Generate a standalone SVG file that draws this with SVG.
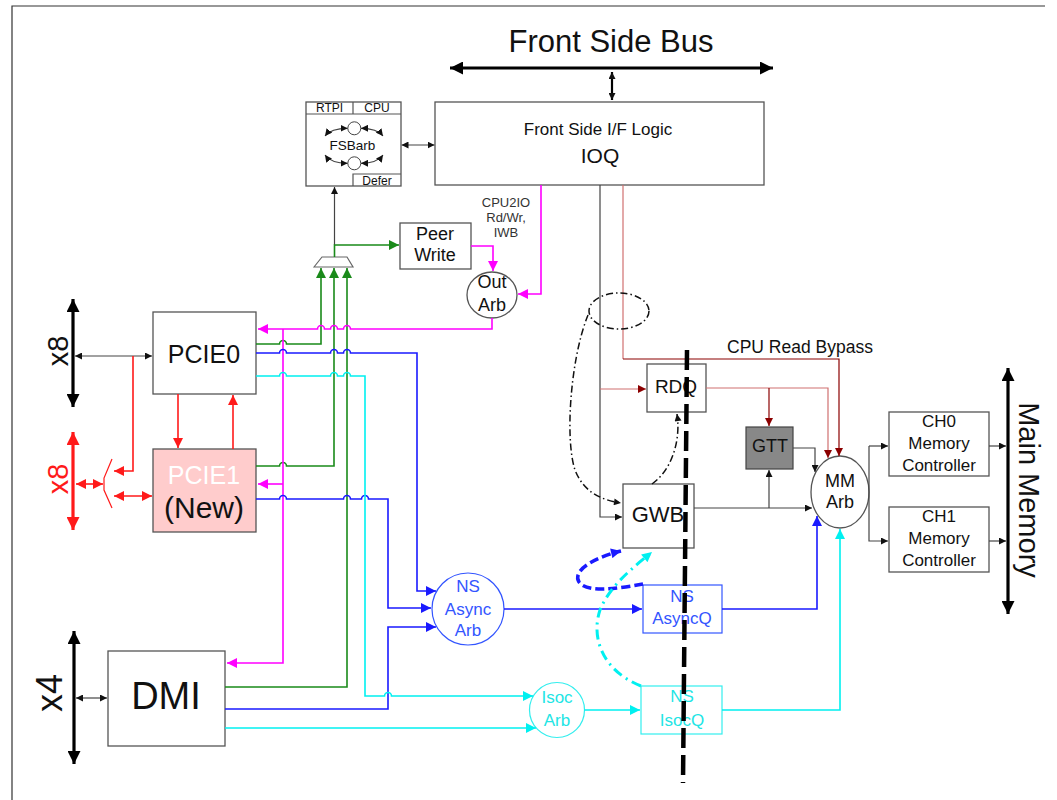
<svg xmlns="http://www.w3.org/2000/svg" width="1057" height="800" viewBox="0 0 1057 800">
<style>
text{font-family:"Liberation Sans",Arial,sans-serif;text-anchor:middle;fill:#111}
.box{fill:#fff;stroke:#555;stroke-width:1.3}
.ln{fill:none;stroke-width:1.6}
.k{stroke:#444;fill:none;stroke-width:1.2}
.g{stroke:#1a8a1a}.b{stroke:#1a1aff}.c{stroke:#00f0f0}.m{stroke:#ff00ff}.r{stroke:#ff1a1a}
.dr{stroke:#8b0000;fill:none;stroke-width:1.2}.lr{stroke:#d07070;fill:none;stroke-width:1.2}
.bus{stroke:#000;stroke-width:3.2;fill:none}
</style>
<defs>
<marker id="aK" viewBox="0 0 10 10" refX="10" refY="5" markerWidth="9" markerHeight="7" markerUnits="userSpaceOnUse" orient="auto-start-reverse"><path d="M0,0L10,5L0,10z" fill="#111"/></marker>
<marker id="aS" viewBox="0 0 10 10" refX="10" refY="5" markerWidth="7" markerHeight="7" markerUnits="userSpaceOnUse" orient="auto-start-reverse"><path d="M0,0L10,5L0,10z" fill="#111"/></marker>
<marker id="aB" viewBox="0 0 10 10" refX="10" refY="5" markerWidth="15" markerHeight="13" markerUnits="userSpaceOnUse" orient="auto-start-reverse"><path d="M0,0L10,5L0,10z" fill="#000"/></marker>
<marker id="aBr" viewBox="0 0 10 10" refX="10" refY="5" markerWidth="15" markerHeight="13" markerUnits="userSpaceOnUse" orient="auto-start-reverse"><path d="M0,0L10,5L0,10z" fill="#ff1a1a"/></marker>
<marker id="aR" viewBox="0 0 10 10" refX="10" refY="5" markerWidth="12" markerHeight="10" markerUnits="userSpaceOnUse" orient="auto-start-reverse"><path d="M0,0L10,5L0,10z" fill="#ff1a1a"/></marker>
<marker id="aG" viewBox="0 0 10 10" refX="10" refY="5" markerWidth="12" markerHeight="10" markerUnits="userSpaceOnUse" orient="auto"><path d="M0,0L10,5L0,10z" fill="#1a8a1a"/></marker>
<marker id="aBl" viewBox="0 0 10 10" refX="10" refY="5" markerWidth="12" markerHeight="10" markerUnits="userSpaceOnUse" orient="auto"><path d="M0,0L10,5L0,10z" fill="#1a1aff"/></marker>
<marker id="aC" viewBox="0 0 10 10" refX="10" refY="5" markerWidth="12" markerHeight="10" markerUnits="userSpaceOnUse" orient="auto"><path d="M0,0L10,5L0,10z" fill="#00f0f0"/></marker>
<marker id="aM" viewBox="0 0 10 10" refX="10" refY="5" markerWidth="12" markerHeight="10" markerUnits="userSpaceOnUse" orient="auto"><path d="M0,0L10,5L0,10z" fill="#ff00ff"/></marker>
<marker id="aD" viewBox="0 0 10 10" refX="10" refY="5" markerWidth="10" markerHeight="8" markerUnits="userSpaceOnUse" orient="auto"><path d="M0,0L10,5L0,10z" fill="#8b0000"/></marker>
</defs>

<path d="M12,800 V6 H1045" fill="none" stroke="#333" stroke-width="1.2"/>

<g id="fsb">
<text x="611" y="52" font-size="31">Front Side Bus</text>
<path class="bus" d="M450,68 H773" marker-start="url(#aB)" marker-end="url(#aB)"/>
<path d="M612,72 V100" stroke="#000" stroke-width="2.2" marker-start="url(#aK)" marker-end="url(#aK)"/>
</g>

<g id="ioq">
<rect class="box" x="435" y="102" width="329" height="83"/>
<text x="598" y="135" font-size="17">Front Side I/F Logic</text>
<text x="600" y="163" font-size="21">IOQ</text>
</g>

<g id="fsbarb">
<rect class="box" x="306" y="102" width="95" height="84"/>
<path d="M306,114 H401 M353,102 V114 M353,186 V174 H401" stroke="#555" stroke-width="1.2" fill="none"/>
<text x="329.5" y="112" font-size="12">RTPI</text>
<text x="377" y="112" font-size="12">CPU</text>
<text x="377" y="184.5" font-size="12">Defer</text>
<text x="352.5" y="150" font-size="13.5">FSBarb</text>
<circle cx="354.3" cy="128.3" r="6.5" fill="#fff" stroke="#444"/>
<circle cx="354.3" cy="163.3" r="6.5" fill="#fff" stroke="#444"/>
<path class="k" d="M325,136 Q331,128.3 347.6,128.3" marker-start="url(#aS)" marker-end="url(#aS)"/>
<path class="k" d="M361,128.3 Q377,128.3 383,136" marker-start="url(#aS)" marker-end="url(#aS)"/>
<path class="k" d="M325,155 Q331,163.3 347.6,163.3" marker-start="url(#aS)" marker-end="url(#aS)"/>
<path class="k" d="M361,163.3 Q377,163.3 383,155" marker-start="url(#aS)" marker-end="url(#aS)"/>
</g>

<g id="peerwrite">
<rect class="box" x="400" y="223" width="71" height="46"/>
<text x="435" y="240" font-size="18">Peer</text>
<text x="435" y="261" font-size="18">Write</text>
</g>

<g id="cpu2io-label">
<text x="506" y="207" font-size="13" style="fill:#333">CPU2IO</text>
<text x="506" y="222" font-size="13" style="fill:#333">Rd/Wr,</text>
<text x="506" y="237" font-size="13" style="fill:#333">IWB</text>
</g>

<g id="outarb">
<ellipse cx="492" cy="295" rx="25" ry="23" class="box"/>
<text x="492" y="288" font-size="18">Out</text>
<text x="492" y="311" font-size="18">Arb</text>
</g>

<g id="mux">
<path d="M314,267 L322,257 H347 L353,267 Z" fill="#fff" stroke="#666" stroke-width="1.2"/>
</g>

<g id="pcie0">
<rect class="box" x="153" y="312" width="103" height="82"/>
<text x="204" y="363" font-size="25">PCIE0</text>
</g>

<g id="pcie1">
<rect x="153" y="449" width="103" height="83" fill="#ffcccc" stroke="#555" stroke-width="1.3"/>
<text x="204" y="484" font-size="25" style="fill:#fff">PCIE1</text>
<text x="204" y="518" font-size="30">(New)</text>
</g>

<g id="redmux">
<path d="M112,459 L104,478 V490 L112,508" fill="none" stroke="#ff1a1a" stroke-width="1.2"/>
</g>

<g id="dmi">
<rect class="box" x="108" y="651" width="117" height="95"/>
<text x="166" y="709" font-size="38">DMI</text>
</g>

<g id="ports">
<path class="bus" d="M73,299 V407" marker-start="url(#aB)" marker-end="url(#aB)"/>
<text transform="translate(68,351) rotate(-90)" font-size="29">x8</text>
<path class="bus" d="M73,432 V530" style="stroke:#ff1a1a" marker-start="url(#aBr)" marker-end="url(#aBr)"/>
<text transform="translate(68,479) rotate(-90)" font-size="29" style="fill:#ff1a1a">x8</text>
<path class="bus" d="M74,631 V764" marker-start="url(#aB)" marker-end="url(#aB)"/>
<text transform="translate(62,693) rotate(-90)" font-size="36">x4</text>
</g>

<g id="nsasyncarb">
<circle cx="468" cy="609" r="36" fill="#fff" stroke="#3355ff" stroke-width="1.2"/>
<text x="468" y="592" font-size="17" style="fill:#3355ff">NS</text>
<text x="468" y="615" font-size="17" style="fill:#3355ff">Async</text>
<text x="468" y="636" font-size="17" style="fill:#3355ff">Arb</text>
</g>

<g id="nsasyncq">
<rect x="643" y="585" width="79" height="48" fill="#fff" stroke="#3355ff" stroke-width="1.2"/>
<text x="682" y="602" font-size="17" style="fill:#3355ff">NS</text>
<text x="682" y="624" font-size="17" style="fill:#3355ff">AsyncQ</text>
</g>

<g id="isocarb">
<circle cx="557" cy="710" r="27.5" fill="#fff" stroke="#33eeee" stroke-width="1.2"/>
<text x="557" y="703" font-size="17" style="fill:#22e5e5">Isoc</text>
<text x="557" y="726" font-size="17" style="fill:#22e5e5">Arb</text>
</g>

<g id="nsisocq">
<rect x="641" y="686" width="81" height="48" fill="#fff" stroke="#33eeee" stroke-width="1.2"/>
<text x="682" y="702" font-size="17" style="fill:#22e5e5">NS</text>
<text x="682" y="726" font-size="17" style="fill:#22e5e5">IsocQ</text>
</g>

<g id="rdq">
<rect class="box" x="647" y="364" width="59" height="48"/>
<text x="676" y="393" font-size="19">RDQ</text>
</g>

<g id="gtt">
<rect x="746" y="427" width="47" height="42" fill="#888" stroke="#444" stroke-width="1.2"/>
<text x="770" y="452" font-size="18">GTT</text>
</g>

<g id="gwb">
<rect class="box" x="623" y="484" width="71" height="64"/>
<text x="658" y="522" font-size="22">GWB</text>
</g>

<g id="mmarb">
<ellipse cx="840" cy="492" rx="29" ry="36" class="box"/>
<text x="840" y="487" font-size="18">MM</text>
<text x="840" y="508" font-size="18">Arb</text>
</g>

<g id="ch0">
<rect class="box" x="889" y="412" width="100" height="64"/>
<text x="939" y="427" font-size="17">CH0</text>
<text x="939" y="449" font-size="17">Memory</text>
<text x="939" y="471" font-size="17">Controller</text>
</g>

<g id="ch1">
<rect class="box" x="889" y="507" width="100" height="65"/>
<text x="939" y="522" font-size="17">CH1</text>
<text x="939" y="544" font-size="17">Memory</text>
<text x="939" y="566" font-size="17">Controller</text>
</g>

<g id="mainmem">
<path class="bus" d="M1008,368 V614" marker-start="url(#aB)" marker-end="url(#aB)"/>
<text transform="translate(1019,490) rotate(90)" font-size="29">Main Memory</text>
</g>

<text x="800" y="353" font-size="17.5">CPU Read Bypass</text>

<g id="connectors">
<path class="k" d="M401.5,145 H434.5" marker-start="url(#aS)" marker-end="url(#aS)"/>
<path class="k" d="M334.5,245 V187" marker-end="url(#aK)"/>
<path class="k" d="M75,356 H152" marker-start="url(#aK)" marker-end="url(#aK)"/>
<path class="k" d="M76,698 H107" marker-start="url(#aK)" marker-end="url(#aK)"/>
<path class="k" d="M600,185 V517 H622" marker-end="url(#aK)"/>
<path class="k" d="M793,448 H815 V472" marker-end="url(#aK)"/>
<path class="k" d="M694,508 H812" marker-end="url(#aK)"/>
<path class="k" d="M769,508 V470" marker-end="url(#aK)"/>
<path class="k" d="M869,446 V541 H888" marker-end="url(#aK)"/>
<path class="k" d="M869,446 H888" marker-end="url(#aK)"/>
<path class="k" d="M989,446 H1006" marker-end="url(#aK)"/>
<path class="k" d="M989,541 H1006" marker-end="url(#aK)"/>
<path class="lr" d="M600,389 H646" marker-end="url(#aD)"/>
<path class="lr" d="M623,185 V359"/>
<path class="dr" d="M623,359 H839 V456" marker-end="url(#aD)"/>
<path class="lr" d="M706,388 H828 V458" marker-end="url(#aD)"/>
<path class="dr" d="M769,388 V426" marker-end="url(#aD)"/>
<path class="ln r" d="M133,356 V471 H114" marker-end="url(#aR)"/>
<path class="ln r" d="M76,484 H103" marker-start="url(#aR)" marker-end="url(#aR)"/>
<path class="ln r" d="M114,496 H152" marker-start="url(#aR)" marker-end="url(#aR)"/>
<path class="ln r" d="M178,394 V448" marker-end="url(#aR)"/>
<path class="ln r" d="M233,449 V395" marker-end="url(#aR)"/>
<path class="ln g" d="M334.5,257 V245 H399" marker-end="url(#aG)"/>
<path class="ln g" d="M256,344 H279.5 a3.5,3.5 0 0 1 7,0 H321 V268" marker-end="url(#aG)"/>
<path class="ln g" d="M256,466 H279.5 a3.5,3.5 0 0 1 7,0 H334 V268" marker-end="url(#aG)"/>
<path class="ln g" d="M225,687 H347 V268" marker-end="url(#aG)"/>
<path class="ln m" d="M471,246 H493 V271" marker-end="url(#aM)"/>
<path class="ln m" d="M541,185 V294 H518" marker-end="url(#aM)"/>
<path class="ln m" d="M492,318 V329 H350.5 a3.5,3.5 0 0 0 -7,0 H337.5 a3.5,3.5 0 0 0 -7,0 H324.5 a3.5,3.5 0 0 0 -7,0 H258" marker-end="url(#aM)"/>
<path class="ln m" d="M283,329 V663 H227" marker-end="url(#aM)"/>
<path class="ln m" d="M283,484 H258" marker-end="url(#aM)"/>
<path class="ln b" d="M256,353 H279.5 a3.5,3.5 0 0 1 7,0 H330.5 a3.5,3.5 0 0 1 7,0 H343.5 a3.5,3.5 0 0 1 7,0 H417 V591 H436" marker-end="url(#aBl)"/>
<path class="ln b" d="M256,499 H279.5 a3.5,3.5 0 0 1 7,0 H343.5 a3.5,3.5 0 0 1 7,0 H361.5 a3.5,3.5 0 0 1 7,0 H388 V608 H431" marker-end="url(#aBl)"/>
<path class="ln b" d="M225,709 H388 V627 H436" marker-end="url(#aBl)"/>
<path class="ln b" d="M504,609 H642" marker-end="url(#aBl)"/>
<path class="ln b" d="M722,609 H817 V516" marker-end="url(#aBl)"/>
<path class="ln c" d="M256,376 H279.5 a3.5,3.5 0 0 1 7,0 H330.5 a3.5,3.5 0 0 1 7,0 H343.5 a3.5,3.5 0 0 1 7,0 H365 V696 H384.5 a3.5,3.5 0 0 1 7,0 H533" marker-end="url(#aC)"/>
<path class="ln c" d="M225,728 H536" marker-end="url(#aC)"/>
<path class="ln c" d="M584.5,710 H640" marker-end="url(#aC)"/>
<path class="ln c" d="M722,710 H840 V529" marker-end="url(#aC)"/>
<ellipse cx="619" cy="311" rx="30" ry="18" fill="none" stroke="#111" stroke-width="1.5" stroke-dasharray="7 3 1.5 3"/>
<path d="M588,315 C570,360 565,440 575,470 C584,493 602,500 621,503" fill="none" stroke="#111" stroke-width="1.5" stroke-dasharray="7 3 1.5 3" marker-end="url(#aK)"/>
<path d="M652,484 C672,470 681,440 677,414" fill="none" stroke="#111" stroke-width="1.5" stroke-dasharray="7 3 1.5 3" marker-end="url(#aK)"/>
<path d="M643,584 C620,588 588,594 579,582 C571,569 600,556 621,551" fill="none" stroke="#1a1aff" stroke-width="3.5" stroke-dasharray="9 4" marker-end="url(#aBl)"/>
<path d="M641,686 C605,672 590,640 600,610 C610,585 635,566 652,552" fill="none" stroke="#00f0f0" stroke-width="3" stroke-dasharray="10 5 2 5" marker-end="url(#aC)"/>
<path d="M687,350 L683,783" stroke="#000" stroke-width="4.5" stroke-dasharray="20 7" fill="none"/>
</g>
</svg>
